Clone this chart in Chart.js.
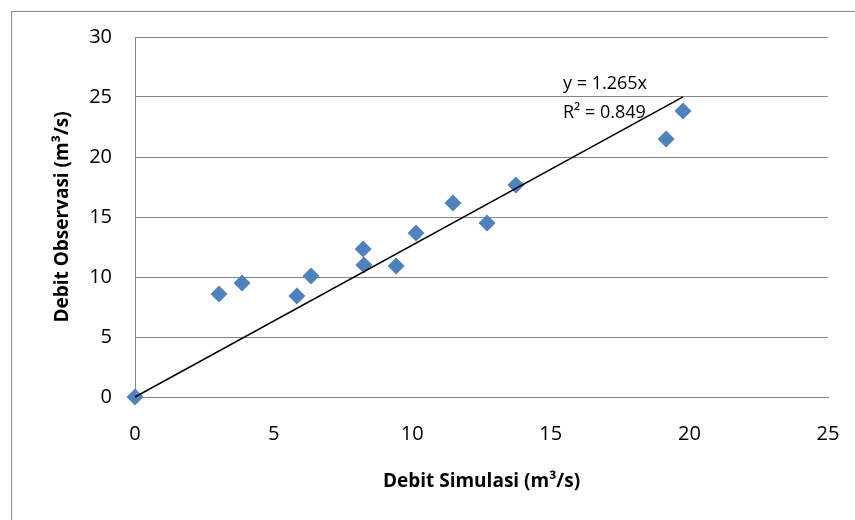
<!DOCTYPE html>
<html>
<head>
<meta charset="utf-8">
<script src="https://cdn.jsdelivr.net/npm/chart.js@4.4.1/dist/chart.umd.min.js"></script>
<style>
  html, body { margin: 0; padding: 0; background: #fff; }
  #wrap { width: 855px; height: 520px; }
</style>
</head>
<body>
<div id="wrap"><canvas id="chart"></canvas></div>
<script>
// debit simulasi vs observasi (m3/s)
const simulasi = [0, 3.03, 3.86, 5.84, 6.35, 8.23, 8.26, 9.42, 10.14, 11.47, 12.70, 13.74, 19.16, 19.77];
const observasi = [0, 8.58, 9.5, 8.42, 10.08, 12.33, 11.0, 10.92, 13.67, 16.17, 14.5, 17.67, 21.5, 23.83];
const slope = 1.265;
const r2 = 0.849;
const xTicks = [0, 5, 10, 15, 20, 25];
const yTicks = [0, 5, 10, 15, 20, 25, 30];

const points = simulasi.map((x, i) => ({ x: x, y: observasi[i] }));
const xMax = Math.max(...simulasi);
const trend = [{ x: 0, y: 0 }, { x: xMax, y: slope * xMax }];

const gray = '#868686';
const fontFam = '"Open Sans", sans-serif';

// gray frame + trendline label
const decor = {
  id: 'decor',
  beforeDraw(chart) {
    const c = chart.ctx;
    c.save();
    c.strokeStyle = '#8c8c8c';
    c.lineWidth = 1;
    c.strokeRect(11.5, 11.5, 900, 600);
    c.restore();
  },
  beforeDatasetsDraw(chart) {
    const c = chart.ctx;
    const xs = chart.scales.x, ys = chart.scales.y;
    c.save();
    c.fillStyle = '#000';
    c.font = '18px ' + fontFam;
    c.textAlign = 'left';
    c.textBaseline = 'middle';
    const tx = xs.getPixelForValue(15.44);
    c.fillText('y = ' + slope + 'x', tx, ys.getPixelForValue(26.1));
    c.fillText('R² = ' + r2, tx, ys.getPixelForValue(23.7));
    c.restore();
  }
};

new Chart(document.getElementById('chart'), {
  type: 'scatter',
  data: {
    datasets: [
      {
        label: 'Linear',
        type: 'line',
        data: trend,
        borderColor: '#000',
        borderWidth: 1.5,
        pointRadius: 0,
        fill: false,
        clip: false,
        order: 0
      },
      {
        label: 'Debit',
        data: points,
        pointStyle: 'rectRot',
        pointRadius: 8.5,
        pointHoverRadius: 8.5,
        backgroundColor: '#4F81BD',
        borderColor: '#4F81BD',
        borderWidth: 0,
        clip: false,
        order: 1
      }
    ]
  },
  options: {
    responsive: true,
    maintainAspectRatio: false,
    animation: false,
    layout: { padding: { left: 12, right: 27, top: 37, bottom: 0 } },
    plugins: {
      legend: { display: false },
      tooltip: { enabled: false }
    },
    scales: {
      x: {
        type: 'linear',
        min: 0,
        max: 25,
        afterBuildTicks: s => { s.ticks = xTicks.map(v => ({ value: v })); },
        afterFit: s => { s.height = 123; s.paddingLeft = 0; s.paddingRight = 0; },
        grid: { display: false, drawTicks: false },
        border: { display: true, color: gray, width: 1 },
        ticks: { padding: 25, color: '#000', font: { family: fontFam, size: 20 } },
        title: {
          display: true,
          text: 'Debit Simulasi (m³/s)',
          color: '#000',
          font: { family: fontFam, size: 19, weight: 'bold' },
          padding: { top: 0, bottom: 27 }
        }
      },
      y: {
        min: 0,
        max: 30,
        afterBuildTicks: s => { s.ticks = yTicks.map(v => ({ value: v })); },
        afterFit: s => { s.width = 123; s.paddingTop = 0; s.paddingBottom = 0; },
        grid: { color: gray, lineWidth: 1, drawTicks: false },
        border: { display: true, color: gray, width: 1 },
        ticks: { padding: 23, color: '#000', font: { family: fontFam, size: 20 } },
        title: {
          display: true,
          text: 'Debit Observasi (m³/s)',
          color: '#000',
          font: { family: fontFam, size: 19, weight: 'bold' },
          padding: { top: 39, bottom: 0 }
        }
      }
    }
  },
  plugins: [decor]
});
</script>
</body>
</html>
